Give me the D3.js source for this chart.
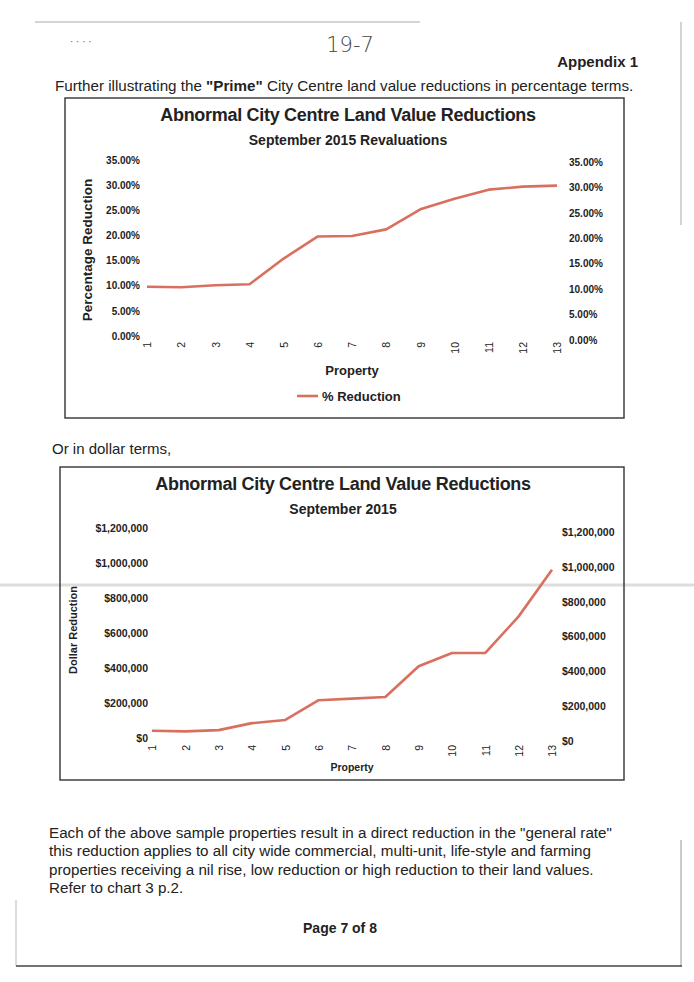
<!DOCTYPE html>
<html>
<head>
<meta charset="utf-8">
<script src="https://cdn.jsdelivr.net/npm/d3@7"></script>
<style>
  body { margin: 0; background: #fff; }
  svg { display: block; }
  text { font-family: "Liberation Sans", Arial, sans-serif; fill: #222; }
  .narrow { font-family: "Liberation Sans Narrow", "Liberation Sans", Arial, sans-serif; }
</style>
</head>
<body>
<div id="page"></div>
<script>
// chart data
const properties = [1, 2, 3, 4, 5, 6, 7, 8, 9, 10, 11, 12, 13];
const pctReduction = [0.098, 0.097, 0.101, 0.103, 0.154, 0.198, 0.199, 0.212, 0.252, 0.273, 0.291, 0.297, 0.299];
const dollarReduction = [41000, 38000, 45000, 85000, 103000, 216000, 225000, 234000, 410000, 486000, 486000, 695000, 962000];
const pctTicks = [0, 0.05, 0.10, 0.15, 0.20, 0.25, 0.30, 0.35];
const dollarTicks = [0, 200000, 400000, 600000, 800000, 1000000, 1200000];

const paragraph = [
    'Each of the above sample properties result in a direct reduction in the "general rate"',
    'this reduction applies to all city wide commercial, multi-unit, life-style and farming',
    'properties receiving a nil rise, low reduction or high reduction to their land values.',
    'Refer to chart 3 p.2.'
];

const lineColor = "#d9705f";

const svg = d3.select("#page").append("svg")
    .attr("width", 694)
    .attr("height", 982);

// scan artefacts: page edges and copier streak
svg.append("line").attr("x1", 35).attr("x2", 420).attr("y1", 22).attr("y2", 22)
    .attr("stroke", "#aaa").attr("stroke-width", 1);
svg.append("line").attr("x1", 681).attr("x2", 681).attr("y1", 22).attr("y2", 225)
    .attr("stroke", "#aaa").attr("stroke-width", 1);
svg.append("line").attr("x1", 681).attr("x2", 681).attr("y1", 840).attr("y2", 966)
    .attr("stroke", "#999").attr("stroke-width", 1);
svg.append("line").attr("x1", 16).attr("x2", 16).attr("y1", 900).attr("y2", 966)
    .attr("stroke", "#bbb").attr("stroke-width", 1);
svg.append("line").attr("x1", 16).attr("x2", 682).attr("y1", 966).attr("y2", 966)
    .attr("stroke", "#444").attr("stroke-width", 1.6);
svg.append("line").attr("x1", 0).attr("x2", 694).attr("y1", 585).attr("y2", 585)
    .attr("stroke", "#ddd").attr("stroke-width", 3);

// page text
svg.append("text").attr("x", 70).attr("y", 45)
    .style("font-size", "10px").style("fill", "#555").text("·   ·   ·   ·");
svg.append("text").attr("x", 350).attr("y", 52).attr("text-anchor", "middle")
    .style("font-family", "'DejaVu Sans', sans-serif").style("font-weight", 200)
    .style("font-size", "21px").style("fill", "#444").text("19-7");
svg.append("text").attr("x", 638).attr("y", 67).attr("text-anchor", "end")
    .attr("class", "narrow").style("font-weight", "bold").style("font-size", "15px")
    .text("Appendix 1");

const intro = svg.append("text").attr("x", 55).attr("y", 91)
    .attr("class", "narrow").style("font-size", "15.2px");
intro.append("tspan").text("Further illustrating the ");
intro.append("tspan").style("font-weight", "bold").text("\"Prime\"");
intro.append("tspan").text(" City Centre land value reductions in percentage terms.");

svg.append("text").attr("x", 52).attr("y", 454)
    .attr("class", "narrow").style("font-size", "15px").text("Or in dollar terms,");

svg.append("g").attr("class", "narrow").style("font-size", "15.2px")
    .selectAll("text").data(paragraph).join("text")
    .attr("x", 49)
    .attr("y", (d, i) => 838 + i * 18.3)
    .text(d => d);

svg.append("text").attr("x", 340).attr("y", 933).attr("text-anchor", "middle")
    .attr("class", "narrow").style("font-weight", "bold").style("font-size", "14px")
    .text("Page 7 of  8");

function drawChart(opt) {
    const g = svg.append("g");

    g.append("rect")
        .attr("x", opt.box[0]).attr("y", opt.box[1])
        .attr("width", opt.box[2] - opt.box[0]).attr("height", opt.box[3] - opt.box[1])
        .attr("fill", "none").attr("stroke", "#333").attr("stroke-width", 1.4);

    g.append("text").attr("x", opt.cx).attr("y", opt.titleY).attr("text-anchor", "middle")
        .style("font-weight", "bold").style("font-size", "18px").style("letter-spacing", "-0.3px")
        .text("Abnormal City Centre Land Value Reductions");
    g.append("text").attr("x", opt.cx).attr("y", opt.subY).attr("text-anchor", "middle")
        .style("font-weight", "bold").style("font-size", "14px")
        .text(opt.subtitle);

    const x = d3.scalePoint().domain(properties).range(opt.xRange);
    const yL = d3.scaleLinear().domain(opt.yDomain).range(opt.yLeft);
    const yR = d3.scaleLinear().domain(opt.yDomain).range(opt.yRight);

    const left = g.append("g")
        .attr("transform", `translate(${opt.leftX},0)`)
        .call(d3.axisLeft(yL).tickValues(opt.ticks).tickFormat(opt.fmt).tickSize(0).tickPadding(0));
    const right = g.append("g")
        .attr("transform", `translate(${opt.rightX},0)`)
        .call(d3.axisRight(yR).tickValues(opt.ticks).tickFormat(opt.fmt).tickSize(0).tickPadding(0));
    [left, right].forEach(a => {
        a.select(".domain").remove();
        a.selectAll("text")
            .style("font-family", "'Liberation Sans', Arial, sans-serif")
            .style("font-weight", "bold").style("font-size", opt.tickFont)
            .attr("fill", "#222");
    });

    const bottom = g.append("g")
        .attr("transform", `translate(0,${opt.xLabelY})`)
        .call(d3.axisBottom(x).tickSize(0).tickPadding(0));
    bottom.select(".domain").remove();
    bottom.selectAll("text")
        .style("font-family", "'Liberation Sans', Arial, sans-serif")
        .style("font-size", "10.5px").attr("fill", "#222")
        .attr("transform", "rotate(-90)")
        .attr("text-anchor", "end")
        .attr("x", 0).attr("y", 0).attr("dy", "0.35em");

    g.append("text")
        .attr("transform", `translate(${opt.yTitleX},${opt.yTitleY}) rotate(-90)`)
        .attr("text-anchor", "middle")
        .style("font-weight", "bold").style("font-size", opt.yTitleFont)
        .text(opt.yTitle);
    g.append("text").attr("x", opt.xTitleX).attr("y", opt.xTitleY).attr("text-anchor", "middle")
        .style("font-weight", "bold").style("font-size", opt.xTitleFont)
        .text("Property");

    const line = d3.line()
        .x((d, i) => x(properties[i]))
        .y(d => yL(d));
    g.append("path")
        .datum(opt.values)
        .attr("d", line)
        .attr("fill", "none")
        .attr("stroke", lineColor)
        .attr("stroke-width", 2.6)
        .attr("stroke-linejoin", "round");

    if (opt.legend) {
        const lg = g.append("g").attr("transform", `translate(${opt.legend[0]},${opt.legend[1]})`);
        lg.append("line").attr("x1", 0).attr("x2", 21).attr("y1", 0).attr("y2", 0)
            .attr("stroke", lineColor).attr("stroke-width", 2.6);
        lg.append("text").attr("x", 25).attr("y", 5)
            .style("font-weight", "bold").style("font-size", "13px")
            .text("% Reduction");
    }
}

drawChart({
    box: [65, 98, 624, 418],
    cx: 348, titleY: 121, subY: 145,
    subtitle: "September 2015 Revaluations",
    xRange: [147, 557],
    yDomain: [0, 0.35], yLeft: [336, 160], yRight: [340, 162],
    ticks: pctTicks, fmt: d3.format(".2%"),
    leftX: 140, rightX: 569, tickFont: "10px",
    xLabelY: 342,
    yTitleX: 92, yTitleY: 250, yTitleFont: "13.5px", yTitle: "Percentage Reduction",
    xTitleX: 352, xTitleY: 375, xTitleFont: "13px",
    values: pctReduction,
    legend: [297, 396]
});

drawChart({
    box: [60, 467, 624, 780],
    cx: 343, titleY: 490, subY: 514,
    subtitle: "September 2015",
    xRange: [152, 552],
    yDomain: [0, 1200000], yLeft: [738, 528], yRight: [741, 532],
    ticks: dollarTicks, fmt: d => "$" + d3.format(",")(d),
    leftX: 148, rightX: 562, tickFont: "10.5px",
    xLabelY: 745,
    yTitleX: 77, yTitleY: 630, yTitleFont: "11px", yTitle: "Dollar Reduction",
    xTitleX: 352, xTitleY: 771, xTitleFont: "10.5px",
    values: dollarReduction
});
</script>
</body>
</html>
